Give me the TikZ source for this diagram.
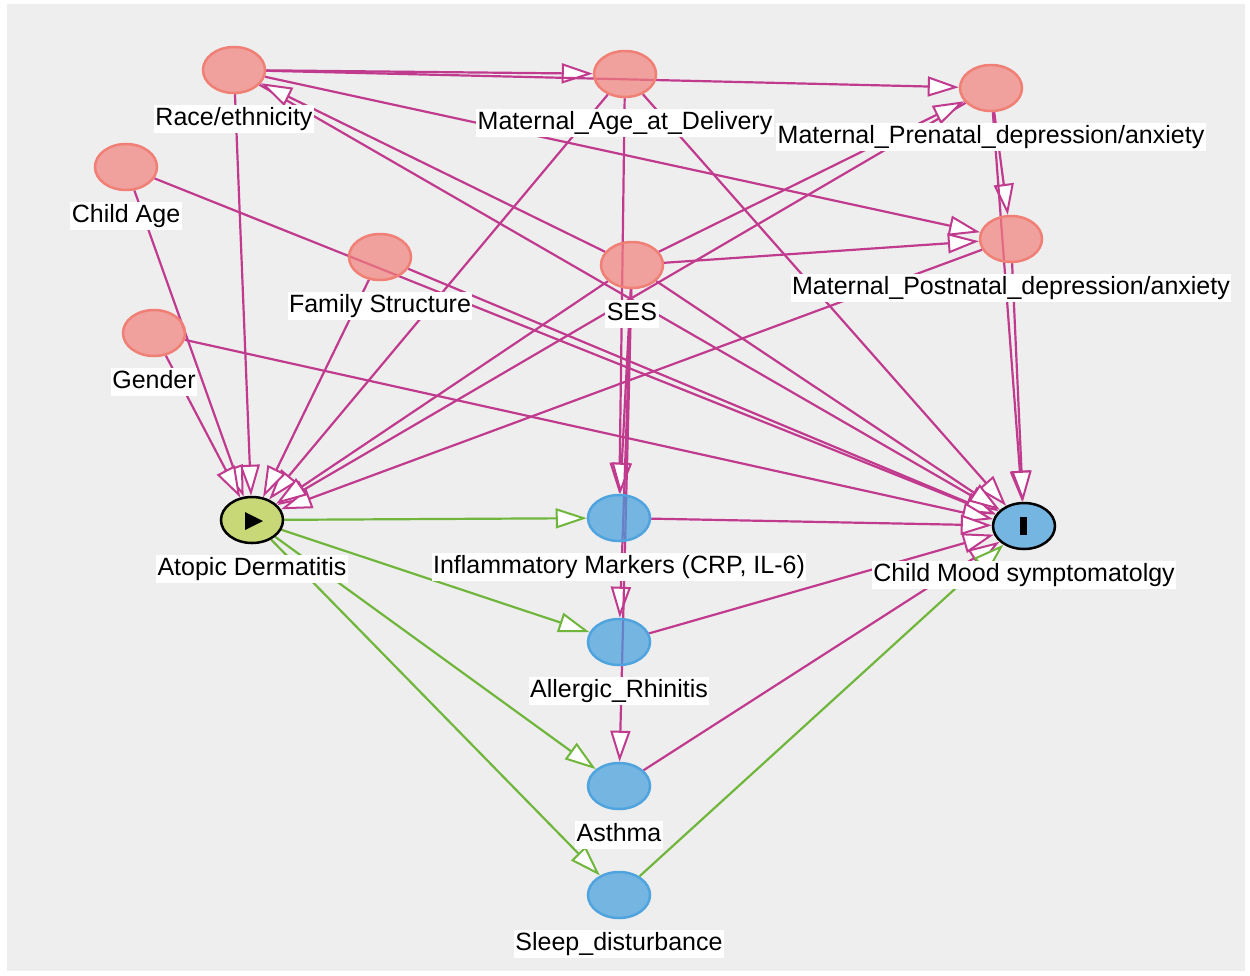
\documentclass[tikz,border=0pt]{standalone}
\usepackage{fontspec}
\setmainfont{Liberation Sans}
\usetikzlibrary{shapes.geometric,arrows.meta}
\definecolor{confFill}{RGB}{241,127,124}
\definecolor{confLine}{RGB}{240,128,118}
\definecolor{medFill}{RGB}{67,158,221}
\definecolor{medLine}{RGB}{80,164,222}
\definecolor{expFill}{RGB}{184,207,69}
\definecolor{biasPath}{RGB}{192,58,142}
\definecolor{causPath}{RGB}{112,182,60}
\definecolor{canvas}{RGB}{238,238,238}
\pgfdeclarelayer{back}
\pgfsetlayers{back,main}

\begin{document}
\begin{tikzpicture}[x=1pt,y=-1pt,font=\fontsize{25}{30}\selectfont,
	var/.style={ellipse,minimum width=62pt,minimum height=46pt,line width=2.5pt,fill opacity=0.7},
	conf/.style={var,draw=confLine,fill=confFill},
	med/.style={var,draw=medLine,fill=medFill},
	every label/.style={fill=white,fill opacity=1,text opacity=1,inner xsep=1.5pt,inner ysep=2pt,text height=18.5pt,text depth=5.5pt},
	label distance=11pt,
	bias/.style={draw=biasPath,line width=2.2pt,-{Triangle[fill=white,length=31pt,width=20pt,line width=2pt]}},
	caus/.style={bias,draw=causPath}]
		\useasboundingbox (0,0) rectangle (1250,975);
		\node[conf,label=below:Race/ethnicity] (race) at (234,70) {};
		\node[conf,label=below:Maternal\_Age\_at\_Delivery] (matage) at (625,74) {};
		\node[conf,label=below:Maternal\_Prenatal\_depression/anxiety] (prenatal) at (991,88) {};
		\node[conf,label=below:Child Age] (childage) at (126,167) {};
		\node[conf,label=below:Family Structure] (family) at (380,257) {};
		\node[conf,label=below:SES] (ses) at (632,265) {};
		\node[conf,label=below:Maternal\_Postnatal\_depression/anxiety] (postnatal) at (1011,239) {};
		\node[conf,label=below:Gender] (gender) at (154,333) {};
		\node[var,draw=black,fill=expFill,label=below:Atopic Dermatitis] (ad) at (252,520) {};
		\node[med,label=below:{Inflammatory Markers (CRP, IL-6)}] (inflam) at (619,518) {};
		\node[var,draw=black,fill=medFill,label=below:Child Mood symptomatolgy] (mood) at (1024,526) {};
		\node[med,label=below:Allergic\_Rhinitis] (rhinitis) at (619,642) {};
		\node[med,label=below:Asthma] (asthma) at (619,786) {};
		\node[med,label=below:Sleep\_disturbance] (sleep) at (619,895) {};

		\fill (245,512) -- (245,530) -- (263,521) -- cycle;
		\fill (1020,517) rectangle (1027,535);

		\begin{pgfonlayer}{back}
		\fill[canvas] (7,4) rectangle (1245,971);
		\path[bias] (race) edge (matage)
		            (race) edge (prenatal)
		            (race) edge (postnatal)
		            (race) edge (ad)
		            (race) edge (mood)
		            (ses) edge (race)
		            (matage) edge (ad)
		            (matage) edge (inflam)
		            (matage) edge (mood)
		            (prenatal) edge (postnatal)
		            (prenatal) edge (ad)
		            (prenatal) edge (mood)
		            (postnatal) edge (ad)
		            (postnatal) edge (mood)
		            (childage) edge (ad)
		            (childage) edge (mood)
		            (family) edge (ad)
		            (family) edge (mood)
		            (gender) edge (ad)
		            (gender) edge (mood)
		            (ses) edge (ad)
		            (ses) edge (prenatal)
		            (ses) edge (postnatal)
		            (ses) edge (mood)
		            (ses) edge (inflam)
		            (ses) edge (rhinitis)
		            (ses) edge (asthma)
		            (inflam) edge (mood)
		            (rhinitis) edge (mood)
		            (asthma) edge (mood);
		\path[caus] (ad) edge (inflam)
		            (ad) edge (rhinitis)
		            (ad) edge (asthma)
		            (ad) edge (sleep)
		            (sleep) edge (mood);
		\end{pgfonlayer}
	\end{tikzpicture}
\end{document}
